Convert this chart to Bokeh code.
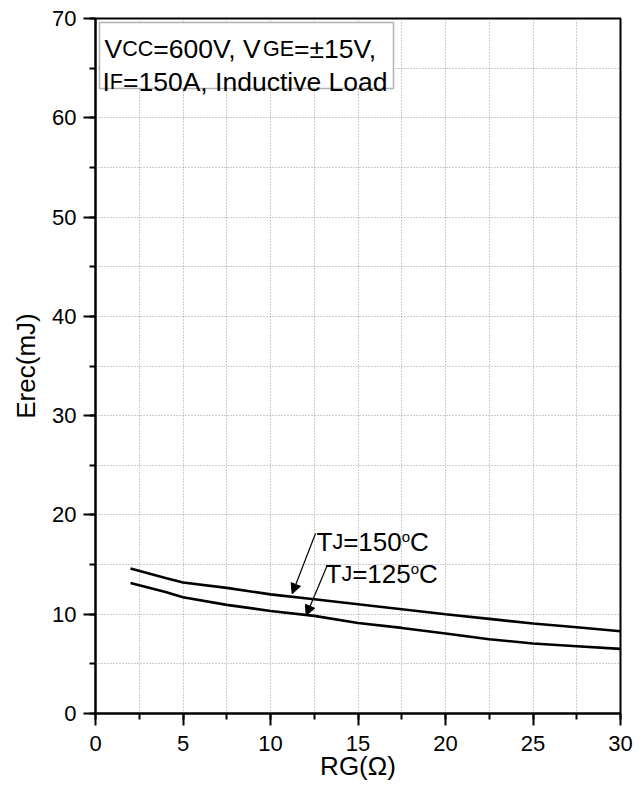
import math
from bokeh.plotting import figure
from bokeh.models import (SingleIntervalTicker, Label, BoxAnnotation, Arrow,
                          NormalHead, ColumnDataSource, Range1d)
from bokeh.embed import file_html
from bokeh.resources import INLINE

# ---- data ----
rg = [2, 3, 4, 5, 7.5, 10, 12.5, 15, 17.5, 20, 22.5, 25, 27.5, 30]
erec_150 = [14.6, 14.12, 13.64, 13.2, 12.65, 12.0, 11.5, 11.0, 10.5, 10.0, 9.53, 9.06, 8.69, 8.29]
erec_125 = [13.15, 12.69, 12.23, 11.7, 10.94, 10.33, 9.83, 9.12, 8.62, 8.05, 7.48, 7.05, 6.78, 6.51]
x_ticks_interval = 5
y_ticks_interval = 10
x_title = "RG(Ω)"
y_title = "Erec(mJ)"

# ---- layout ----
W, H = 642, 788
FL, FR, FT, FB = 95, 620, 18, 713
XMAX, YMAX = 30, 70
PPX = (FR - FL) / XMAX
PPY = (FB - FT) / YMAX
FONT = "Liberation Sans"

def fx(px):
    return (px - FL) / PPX

def fy(py):
    return (FB - py) / PPY

p = figure(width=W, height=H, output_backend="svg", toolbar_location=None,
           x_range=Range1d(0, XMAX), y_range=Range1d(0, YMAX),
           min_border_left=FL, min_border_right=W - FR,
           min_border_top=FT, min_border_bottom=H - FB)
p.background_fill_color = "white"
p.border_fill_color = "white"
p.outline_line_color = "black"
p.outline_line_width = 2

p.xaxis.ticker = SingleIntervalTicker(interval=x_ticks_interval, num_minor_ticks=2)
p.yaxis.ticker = SingleIntervalTicker(interval=y_ticks_interval, num_minor_ticks=2)
for ax in (p.xaxis, p.yaxis):
    ax.axis_line_width = 2
    ax.axis_line_color = "black"
    ax.major_tick_out = 12
    ax.major_tick_in = 0
    ax.minor_tick_out = 6
    ax.minor_tick_in = 0
    ax.major_tick_line_width = 2
    ax.minor_tick_line_width = 2
    ax.major_label_text_font = FONT
    ax.major_label_text_font_size = "22px"
    ax.major_label_text_color = "black"
    ax.axis_label_text_font = FONT
    ax.axis_label_text_font_size = "26px"
    ax.axis_label_text_font_style = "normal"
    ax.axis_label_text_color = "black"
p.xaxis.major_label_standoff = 10
p.yaxis.major_label_standoff = 7
p.xaxis.axis_label = x_title
p.yaxis.axis_label = y_title
p.xaxis.axis_label_standoff = -3
p.yaxis.axis_label_standoff = 8

p.xgrid.ticker = SingleIntervalTicker(interval=2.5)
p.ygrid.ticker = SingleIntervalTicker(interval=5)
for g in (p.xgrid, p.ygrid):
    g.grid_line_color = "#9a9a9a"
    g.grid_line_dash = "1 2"
    g.grid_line_width = 1

src = ColumnDataSource(dict(rg=rg, e150=erec_150, e125=erec_125))
p.line("rg", "e150", source=src, line_color="black", line_width=2.6)
p.line("rg", "e125", source=src, line_color="black", line_width=2.6)

# Arial / Liberation Sans advance widths (per 1000 em)
AW = {' ': 278, ',': 278, '(': 333, ')': 333, '=': 584, '±': 584, 'o': 556,
      'A': 667, 'C': 722, 'E': 667, 'F': 611, 'G': 778, 'I': 278, 'J': 500,
      'L': 556, 'R': 722, 'T': 611, 'V': 667, 'Ω': 768,
      'a': 556, 'c': 500, 'd': 556, 'e': 556, 'i': 222, 'n': 556, 't': 278,
      'u': 556, 'v': 500, 'm': 833, 'r': 333}
for d in "0123456789":
    AW[d] = 556

def width(txt, size):
    return sum(AW.get(ch, 556) for ch in txt) * size / 1000.0

def rich(pieces, x_px, base_px):
    x = x_px
    for txt, size, dy in pieces:
        p.add_layout(Label(x=fx(x), y=fy(base_px - dy), text=txt,
                           text_font=FONT, text_font_size=f"{size}px",
                           text_baseline="alphabetic", text_align="left",
                           text_color="black"))
        x += width(txt, size)

# condition box
p.add_layout(BoxAnnotation(left=fx(99), right=fx(393), top=fy(22), bottom=fy(88),
                           fill_color="white", fill_alpha=1.0,
                           line_color="black", line_width=1.5))
S, s = 26.5, 21.5
rich([("V", S, 0), ("CC", s, 0), ("=600V, V", S, 0), ("GE", s, 0), ("=±15V,", S, 0)], 104, 48.5)
rich([("I", S, 0), ("F", s, 0), ("=150A, Inductive Load", S, 0)], 102, 81.5)

# curve labels
T = 26
rich([("T", T, 0), ("J", s, 0), ("=150", T, 0), ("o", 15, 5.5), ("C", T, 0)], 316, 541.7)
rich([("T", T, 0), ("J", s, 0), ("=125", T, 0), ("o", 15, 5.5), ("C", T, 0)], 325, 573.3)

head = dict(size=10, fill_color="black", line_color="black", line_width=1)
p.add_layout(Arrow(end=NormalHead(**head), x_start=fx(315), y_start=fy(533),
                   x_end=fx(291.7), y_end=fy(593.3), line_width=1.2, line_color="black"))
p.add_layout(Arrow(end=NormalHead(**head), x_start=fx(326.7), y_start=fy(565),
                   x_end=fx(305.7), y_end=fy(615), line_width=1.2, line_color="black"))

open("out.html", "w").write(file_html(p, INLINE))
